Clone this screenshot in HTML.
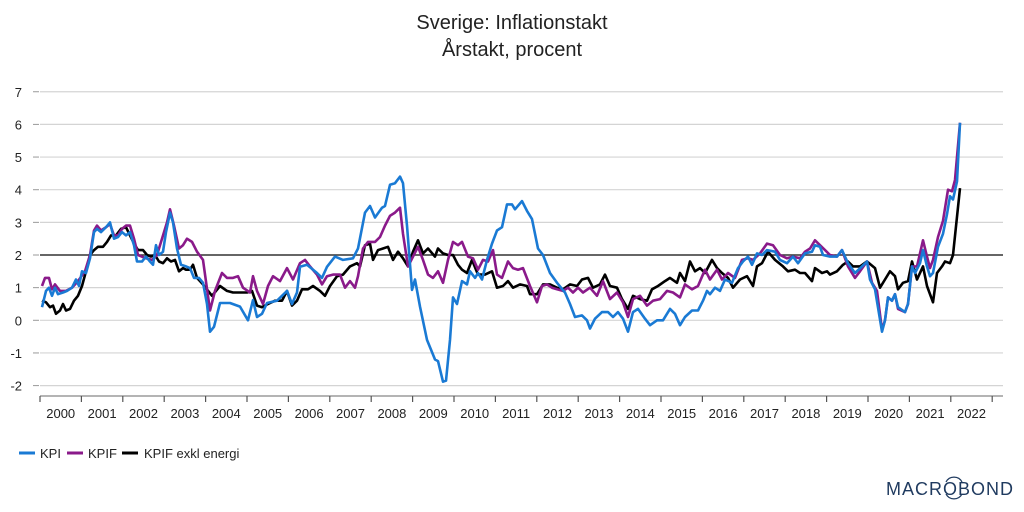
<!DOCTYPE html>
<html><head><meta charset="utf-8"><style>
body{margin:0;background:#fff;width:1024px;height:512px;overflow:hidden}
svg{display:block;font-family:"Liberation Sans",sans-serif}
</style></head><body>
<svg id="s" width="1024" height="512" viewBox="0 0 1024 512">
<text x="512" y="29" text-anchor="middle" font-size="20" fill="#222">Sverige: Inflationstakt</text>
<text x="512" y="56" text-anchor="middle" font-size="20" fill="#222">Årstakt, procent</text>
<g id="grid"></g>
<g id="series" fill="none" stroke-width="2.6" stroke-linejoin="round"></g>
<line x1="19" y1="453" x2="35" y2="453" stroke="#1a7ad4" stroke-width="3"/>
<text x="40" y="458" font-size="13" fill="#222">KPI</text>
<line x1="67" y1="453" x2="83" y2="453" stroke="#8a1a8a" stroke-width="3"/>
<text x="88" y="458" font-size="13" fill="#222">KPIF</text>
<line x1="122" y1="453" x2="138" y2="453" stroke="#000" stroke-width="3"/>
<text x="144" y="458" font-size="13" fill="#222">KPIF exkl energi</text>
<text x="950" y="495" text-anchor="middle" font-size="18" fill="#1f3a5f" letter-spacing="1">MACROBOND</text>
<path d="M946 482 A9 9 0 0 1 962 482 M946 494 A9 9 0 0 0 962 494" stroke="#1f3a5f" stroke-width="1.3" fill="none"/>
</svg>
<script>
var NS="http://www.w3.org/2000/svg";
function Y(v){return 320.3-32.65*v;}
function el(p,t,a){var e=document.createElementNS(NS,t);for(var k in a)e.setAttribute(k,a[k]);p.appendChild(e);return e;}
var g=document.getElementById('grid');
for(var v=-2;v<=7;v++){
 el(g,'line',{x1:40,x2:1003,y1:Y(v),y2:Y(v),stroke:v==2?'#333':'#d4d4d4','stroke-width':v==2?1.4:1.2});
 el(g,'line',{x1:33,x2:39,y1:Y(v),y2:Y(v),stroke:'#999','stroke-width':1});
 var t=el(g,'text',{x:22,y:Y(v)+5,'text-anchor':'end','font-size':13,fill:'#222'});t.textContent=v;
}
el(g,'line',{x1:40,x2:1003,y1:396,y2:396,stroke:'#888','stroke-width':1.2});
for(var i=0;i<=23;i++){var x=40+i*41.4;el(g,'line',{x1:x,x2:x,y1:396,y2:402,stroke:'#555','stroke-width':1.2});
 if(i<23){var t=el(g,'text',{x:x+20.7,y:418,'text-anchor':'middle','font-size':13,fill:'#222'});t.textContent=2000+i;}}
var kpi=[42,0.4,46,0.9,49,1.0,52,0.75,55,1.0,58,0.8,63,0.85,67,0.9,72,1.0,76,1.25,79,1.05,82,1.5,86,1.45,90,1.9,94,2.7,97,2.8,101,2.7,106,2.85,110,3.0,114,2.5,118,2.55,122,2.7,126,2.6,130,2.7,134,2.3,137,1.8,142,1.8,146,1.95,150,1.8,153,1.7,156,2.3,159,2.0,163,2.1,166,2.7,170,3.3,173,3.0,177,2.2,181,1.7,186,1.65,190,1.6,194,1.3,199,1.3,203,1.15,207,0.5,210,-0.35,214,-0.2,220,0.53,230,0.53,240,0.42,248,0.0,253,0.62,257,0.1,262,0.2,267,0.53,277,0.6,287,0.9,292,0.5,297,0.85,300,1.64,307,1.7,317,1.45,322,1.3,327,1.64,335,1.95,343,1.85,353,1.9,358,2.2,365,3.3,370,3.5,375,3.15,382,3.45,385,3.5,390,4.15,395,4.2,400,4.4,403,4.2,407,2.9,412,0.93,415,1.25,420,0.42,427,-0.6,435,-1.2,438,-1.25,443,-1.88,446,-1.85,450,-0.6,453,0.7,457,0.5,462,1.2,467,1.1,470,1.5,475,1.3,478,1.45,482,1.25,487,1.85,492,2.35,497,2.75,502,2.85,507,3.55,512,3.55,515,3.4,522,3.65,527,3.35,532,3.1,538,2.2,543,2.0,550,1.45,557,1.15,565,0.85,570,0.5,575,0.1,582,0.15,587,0.0,590,-0.25,595,0.05,602,0.25,608,0.25,613,0.1,618,0.25,623,0.05,628,-0.35,633,0.25,638,0.35,645,0.05,650,-0.15,657,0.0,663,0.0,670,0.35,675,0.2,680,-0.15,685,0.1,692,0.3,698,0.3,703,0.6,707,0.9,710,0.8,715,1.0,720,0.9,725,1.25,732,1.15,738,1.6,743,1.8,748,1.95,752,1.7,757,2.05,762,2.0,767,2.15,775,2.1,780,1.85,787,1.75,793,1.95,798,1.75,805,2.05,812,2.1,815,2.3,820,2.25,823,2.0,830,1.95,837,1.95,842,2.15,848,1.75,855,1.45,862,1.65,867,1.8,870,1.25,875,0.95,882,-0.35,885,0.0,888,0.7,892,0.6,895,0.8,898,0.4,905,0.25,908,0.5,912,1.65,915,1.45,920,1.75,923,2.15,927,1.65,930,1.35,933,1.45,938,2.25,943,2.65,947,3.25,950,3.8,953,3.7,957,4.25,960,6.05];
var kpif=[42,1.05,45,1.3,49,1.3,52,0.95,55,1.1,60,0.9,66,0.9,72,1.0,78,1.2,85,1.5,90,2.0,94,2.75,97,2.9,101,2.75,106,2.85,110,2.95,114,2.6,118,2.6,122,2.8,126,2.9,130,2.9,134,2.5,138,2.0,146,1.9,152,1.85,157,2.0,162,2.5,167,3.0,170,3.4,174,2.9,179,2.2,183,2.3,187,2.5,192,2.4,197,2.1,203,1.85,210,0.3,215,0.9,222,1.45,227,1.3,233,1.3,238,1.35,243,1.0,250,0.85,253,1.35,257,0.9,263,0.5,268,1.05,273,1.35,280,1.2,287,1.6,293,1.25,300,1.75,305,1.85,310,1.65,317,1.4,322,1.1,327,1.35,333,1.4,340,1.4,345,1.0,350,1.2,355,1.0,358,1.35,363,2.2,368,2.4,375,2.4,380,2.55,385,2.9,390,3.2,395,3.3,400,3.45,403,2.65,408,1.65,413,1.95,418,2.25,423,1.85,428,1.4,433,1.3,438,1.5,443,1.15,448,1.85,453,2.4,458,2.3,462,2.4,468,1.95,473,1.9,478,1.55,483,1.85,488,1.8,493,2.15,497,1.4,502,1.3,508,1.8,513,1.6,518,1.55,523,1.6,530,1.05,537,0.55,542,1.05,547,1.1,552,1.0,557,0.95,563,0.9,568,1.0,573,0.85,578,1.0,583,0.85,590,1.0,597,0.75,603,1.2,610,0.65,617,0.85,623,0.55,628,0.1,633,0.65,640,0.75,647,0.45,653,0.6,660,0.65,667,0.9,673,0.85,680,0.7,685,1.1,692,0.95,698,1.05,705,1.55,710,1.25,717,1.55,722,1.25,728,1.45,735,1.3,742,1.85,748,1.9,753,1.85,760,2.05,767,2.35,773,2.3,780,2.0,787,1.9,793,1.95,800,1.9,805,2.1,810,2.2,815,2.45,820,2.3,825,2.15,830,2.0,837,1.95,842,2.15,848,1.65,855,1.3,860,1.5,867,1.8,872,1.15,877,0.9,882,-0.3,885,0.0,888,0.7,892,0.6,895,0.8,898,0.35,905,0.25,908,0.5,912,1.65,917,1.65,923,2.45,927,1.95,930,1.6,933,1.85,938,2.55,943,3.05,948,4.0,952,3.95,955,4.3,960,6.05];
var ex=[42,0.6,46,0.55,50,0.4,53,0.45,56,0.2,60,0.3,63,0.5,66,0.3,70,0.35,74,0.6,78,0.75,82,1.05,86,1.5,90,2.0,94,2.15,98,2.25,103,2.25,107,2.4,111,2.6,116,2.6,121,2.8,126,2.85,130,2.6,134,2.35,138,2.15,143,2.15,147,2.0,151,1.95,155,2.0,159,1.8,163,1.75,167,1.9,171,1.8,175,1.85,179,1.5,183,1.6,186,1.55,190,1.55,193,1.7,197,1.3,203,1.1,212,0.75,220,1.05,227,0.9,233,0.85,240,0.85,247,0.85,252,0.9,257,0.45,262,0.4,268,0.5,275,0.6,282,0.6,287,0.9,292,0.45,297,0.6,302,0.95,308,0.95,313,1.05,320,0.9,325,0.75,330,1.05,337,1.35,343,1.4,350,1.65,357,1.75,360,1.65,365,2.3,370,2.35,373,1.85,378,2.15,383,2.2,388,2.25,393,1.85,398,2.1,403,1.9,408,1.65,413,2.1,418,2.45,423,2.05,428,2.2,435,1.95,438,2.2,443,2.05,448,2.0,453,2.0,458,1.7,462,1.55,467,1.45,472,1.85,478,1.4,485,1.4,492,1.5,497,1.0,503,1.05,508,1.2,513,1.0,520,1.1,527,1.05,530,0.8,537,0.8,543,1.1,550,1.1,557,1.0,563,0.95,570,1.1,577,1.05,582,1.25,588,1.3,593,1.0,600,1.1,605,1.4,610,1.05,617,1.0,622,0.65,628,0.35,633,0.75,640,0.65,647,0.6,652,0.95,658,1.05,665,1.2,670,1.3,677,1.15,680,1.45,685,1.2,690,1.8,695,1.5,700,1.6,705,1.45,712,1.85,717,1.6,722,1.45,728,1.3,733,1.0,740,1.25,747,1.35,753,1.05,757,1.65,762,1.75,768,2.1,775,1.85,783,1.65,788,1.5,795,1.55,800,1.45,805,1.45,812,1.2,815,1.6,822,1.45,827,1.5,830,1.4,837,1.5,843,1.7,848,1.8,853,1.65,860,1.65,867,1.8,875,1.6,880,1.0,885,1.25,890,1.5,895,1.35,898,0.95,903,1.15,908,1.2,912,1.8,917,1.25,923,1.65,927,1.05,933,0.55,937,1.45,942,1.65,945,1.8,950,1.75,953,2.0,960,4.05];
var sg=document.getElementById('series');
function draw(d,c){var p=[];for(var i=0;i<d.length;i+=2)p.push(d[i]+','+Y(d[i+1]).toFixed(1));el(sg,'polyline',{points:p.join(' '),stroke:c});}
draw(ex,'#000');draw(kpif,'#8a1a8a');draw(kpi,'#1a7ad4');
</script>
</body></html>
